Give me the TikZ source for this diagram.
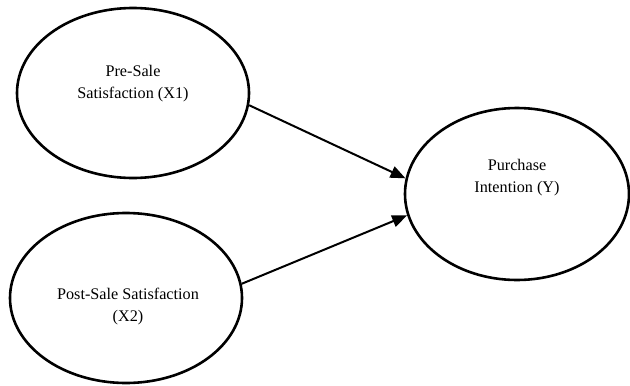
\documentclass[tikz,border=0pt]{standalone}
\usepackage{fontspec}
\setmainfont{Liberation Serif}
\usetikzlibrary{shapes.geometric,arrows.meta}
\begin{document}
\begin{tikzpicture}[x=1pt,y=-1pt,
  construct/.style={draw=black,line width=2.6pt,ellipse,inner sep=0pt,
    minimum width=232pt,minimum height=170pt},
  caption/.style={align=center,inner sep=0pt,
    font=\fontsize{16.2}{22}\selectfont},
  path/.style={draw=black,line width=2pt,-{Triangle[length=15pt,width=12pt]}}]
\useasboundingbox (0,0) rectangle (630,386);
\node[construct] (x1) at (133,93) {};
\node[caption] (x1t) at (133,84) {Pre-Sale\\Satisfaction (X1)};
\node[construct] (x2) at (126,298) {};
\node[caption] (x2t) at (128,307) {Post-Sale Satisfaction\\(X2)};
\node[construct,minimum width=224pt,minimum height=172pt] (y) at (517,194) {};
\node[caption] (yt) at (517,178) {Purchase\\Intention (Y)};
\draw[path] (x1.-6) -- (y.172);
\draw[path] (x2.7) -- (y.191);
\end{tikzpicture}
\end{document}
